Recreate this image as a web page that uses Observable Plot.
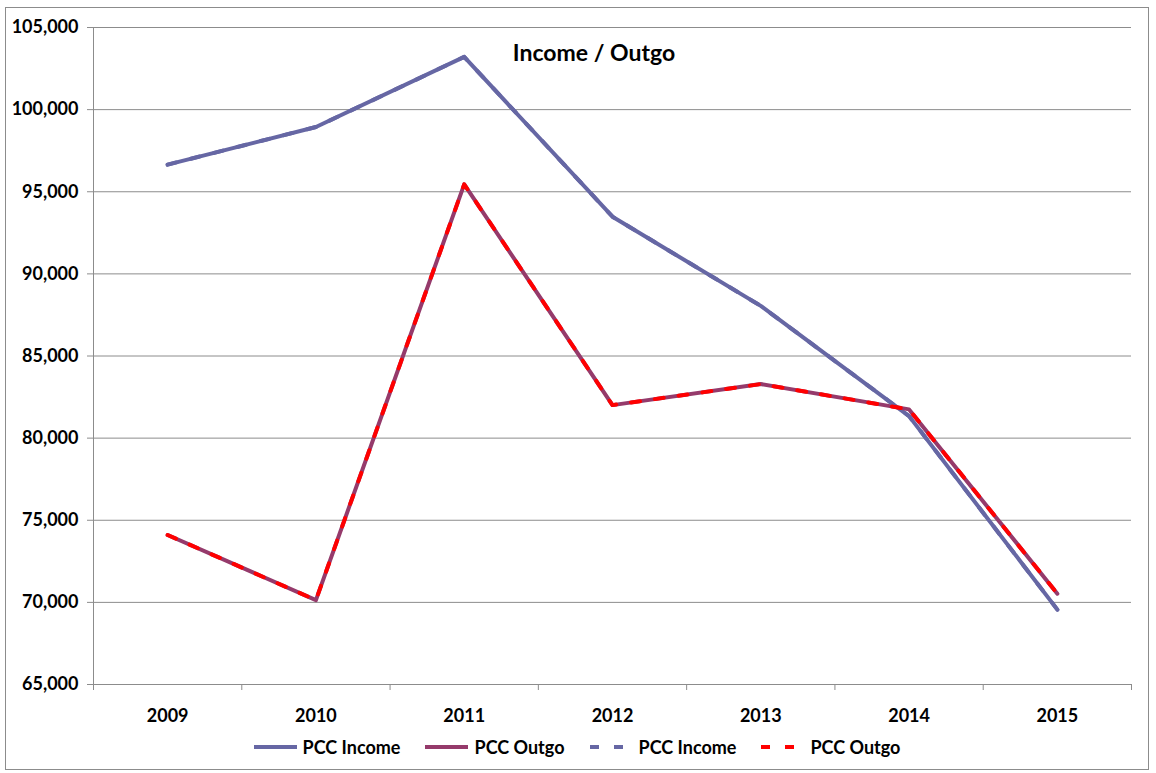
<!DOCTYPE html>
<html>
<head>
<meta charset="utf-8">
<script src="https://cdn.jsdelivr.net/npm/d3@7"></script>
<script src="https://cdn.jsdelivr.net/npm/@observablehq/plot@0.6"></script>
<style>
  html, body { margin: 0; padding: 0; background: #fff; }
  #wrap { position: relative; width: 1156px; height: 773px; font-family: Lato, "Liberation Sans", sans-serif; }
  #border { position: absolute; left: 5px; top: 7px; width: 1144px; height: 763px; border: 1.5px solid #8c8c8c; box-sizing: border-box; }
  #chart { position: absolute; left: 0; top: 0; }
  #title { position: absolute; left: 0; width: 1188px; top: 38px; text-align: center; font-weight: bold; font-size: 23px; color: #000; }
  #legend { position: absolute; left: 0; width: 1154px; top: 736px; display: flex; justify-content: center; gap: 25px; font-weight: bold; font-size: 18px; color: #000; }
  .item { display: flex; align-items: center; gap: 6px; line-height: 22px; }
  .item svg { display: block; }
</style>
</head>
<body>
<div id="wrap">
  <div id="border"></div>
  <div id="chart"></div>
  <div id="title">Income / Outgo</div>
  <div id="legend"></div>
</div>
<script>
const years = [2009, 2010, 2011, 2012, 2013, 2014, 2015];
const income = [96650, 98940, 103210, 93480, 88050, 81340, 69560];
const outgo = [74100, 70140, 95450, 82010, 83290, 81750, 70530];
const yTicks = [65000, 70000, 75000, 80000, 85000, 90000, 95000, 100000, 105000];
const seriesNames = ["PCC Income", "PCC Outgo", "PCC Income", "PCC Outgo"];

const incomeColor = "#6667a4";
const outgoColor = "#953a6b";
const dashColor = "#ff0000";
const gridColor = "#8c8c8c";

const incomeData = years.map((yr, i) => ({year: yr, value: income[i]}));
const outgoData = years.map((yr, i) => ({year: yr, value: outgo[i]}));
const bounds = [years[0] - 0.5, ...years.map(y => y + 0.5)];

const chart = Plot.plot({
  width: 1156,
  height: 773,
  marginLeft: 93,
  marginRight: 25,
  marginTop: 27,
  marginBottom: 89,
  style: {fontFamily: "Lato, 'Liberation Sans', sans-serif", fontSize: "18px", fontWeight: "bold", color: "#000", background: "transparent"},
  x: {type: "linear", domain: [years[0] - 0.5, years[years.length - 1] + 0.5]},
  y: {domain: [yTicks[0], yTicks[yTicks.length - 1]]},
  marks: [
    Plot.gridY(yTicks, {stroke: gridColor, strokeOpacity: 1, strokeWidth: 1}),
    Plot.axisY(yTicks, {tickSize: 6, tickPadding: 9, tickFormat: d3.format(","), stroke: gridColor, fill: "#000", fontSize: 18, fontWeight: "bold", label: null}),
    Plot.axisX(bounds, {tickSize: 6, tickFormat: () => "", stroke: gridColor, label: null}),
    Plot.axisX(years, {tickSize: 0, tickPadding: 25, tickFormat: d => String(d), fill: "#000", fontSize: 18, fontWeight: "bold", label: null}),
    Plot.ruleX([bounds[0]], {stroke: gridColor}),
    Plot.ruleY([yTicks[0]], {stroke: gridColor}),
    Plot.lineY(incomeData, {x: "year", y: "value", stroke: incomeColor, strokeWidth: 4}),
    Plot.lineY(outgoData, {x: "year", y: "value", stroke: outgoColor, strokeWidth: 4}),
    Plot.lineY(incomeData, {x: "year", y: "value", stroke: incomeColor, strokeWidth: 4, strokeDasharray: "9,15"}),
    Plot.lineY(outgoData, {x: "year", y: "value", stroke: dashColor, strokeWidth: 4, strokeDasharray: "9,15"})
  ]
});
document.getElementById("chart").appendChild(chart);

const legendStyles = [
  {color: incomeColor, dash: null},
  {color: outgoColor, dash: null},
  {color: incomeColor, dash: "9,15"},
  {color: dashColor, dash: "9,15"}
];
const legend = document.getElementById("legend");
seriesNames.forEach((name, i) => {
  const st = legendStyles[i];
  const item = document.createElement("div");
  item.className = "item";
  item.innerHTML = `<svg width="43" height="8"><line x1="0" x2="43" y1="4" y2="4" stroke="${st.color}" stroke-width="4"${st.dash ? ` stroke-dasharray="${st.dash}"` : ""}/></svg><span>${name}</span>`;
  legend.appendChild(item);
});
</script>
</body>
</html>
